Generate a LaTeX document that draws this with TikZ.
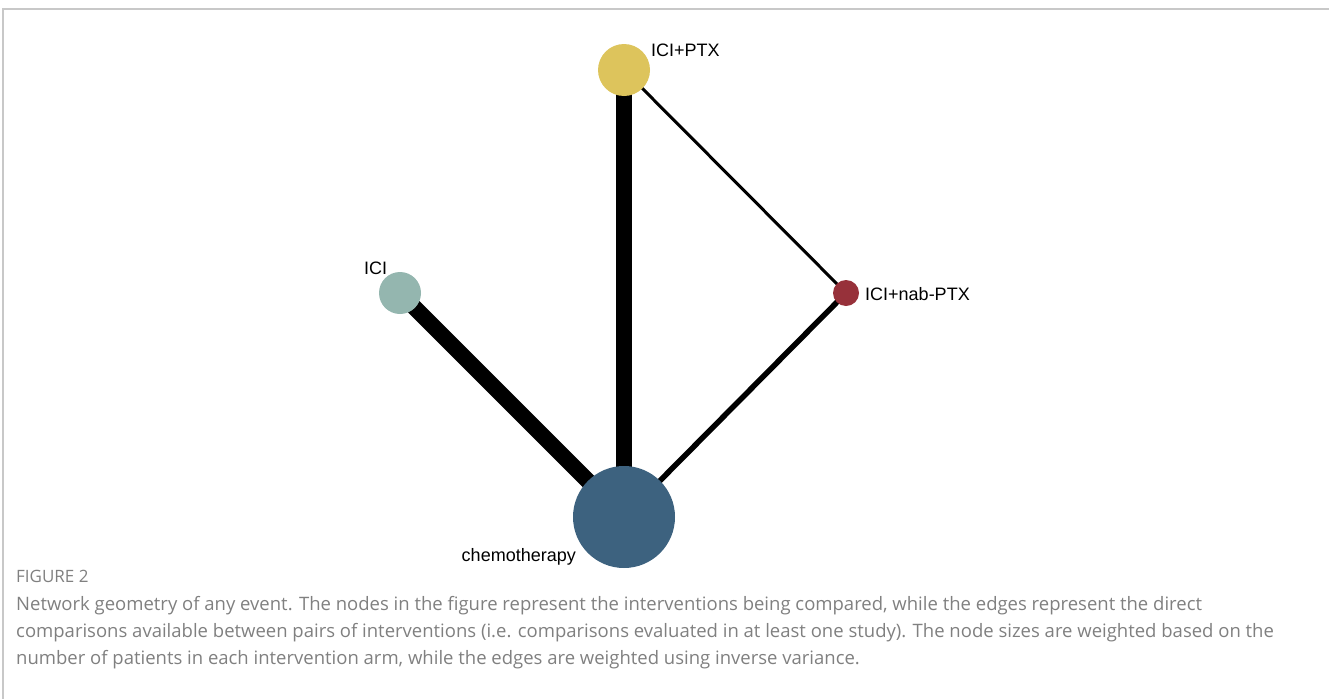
\documentclass[tikz,border=0pt]{standalone}
\usepackage{fontspec}
\setmainfont{Liberation Sans}
\newfontfamily\capfont{Open Sans}
\usepackage{xcolor}
\usepackage{tikz}
\usetikzlibrary{backgrounds}
\definecolor{ptxyellow}{HTML}{DDC45C}
\definecolor{icigreen}{HTML}{94B6AF}
\definecolor{nabred}{HTML}{97313A}
\definecolor{chemoblue}{HTML}{3D627F}
\definecolor{capgray}{HTML}{808080}
\definecolor{framegray}{HTML}{C8C8C8}

\begin{document}
\begin{tikzpicture}[x=1pt,y=-1pt,
  arm/.style={circle,inner sep=0pt,minimum size=#1},
  lbl/.style={font=\fontsize{18}{18}\selectfont,inner sep=0pt},
  captxt/.style={font=\capfont\fontsize{18.5}{18.5}\selectfont,text=capgray,inner sep=0pt,anchor=base west}]
\useasboundingbox (0,0) rectangle (1329,699);
\draw[framegray,line width=1.2pt] (1329,9) -- (3,9) -- (3,699);
% treatment arms
\node[arm=52pt,fill=ptxyellow] (ptx) at (624,70) {};
\node[arm=42pt,fill=icigreen] (ici) at (400,293) {};
\node[arm=26pt,fill=nabred] (nab) at (846,293) {};
\node[arm=102pt,fill=chemoblue] (chemo) at (624,517) {};
\begin{scope}[on background layer]
\draw[line width=16pt] (chemo.center) -- (ptx.center);
\draw[line width=16pt] (chemo.center) -- (ici.center);
\draw[line width=5.5pt] (chemo.center) -- (nab.center);
\draw[line width=3pt] (ptx.center) -- (nab.center);
\end{scope}
\node[lbl,anchor=west] (ptxlbl) at (651,50) {ICI+PTX};
\node[lbl,anchor=west] (icilbl) at (364,268) {ICI};
\node[lbl,anchor=west] (nablbl) at (865,294) {ICI+nab-PTX};
\node[lbl,anchor=base east] (chemolbl) at (576,561) {chemotherapy};
% caption
\node[captxt,font=\capfont\fontsize{17}{17}\selectfont] (fig) at (16,582) {FIGURE 2};
\node[captxt] (cap1) at (16,610) {Network geometry of any event. The nodes in the figure represent the interventions being compared, while the edges represent the direct};
\node[captxt] (cap2) at (16,637) {comparisons available between pairs of interventions (i.e. comparisons evaluated in at least one study). The node sizes are weighted based on the};
\node[captxt] (cap3) at (16,664) {number of patients in each intervention arm, while the edges are weighted using inverse variance.};
\end{tikzpicture}
\end{document}
